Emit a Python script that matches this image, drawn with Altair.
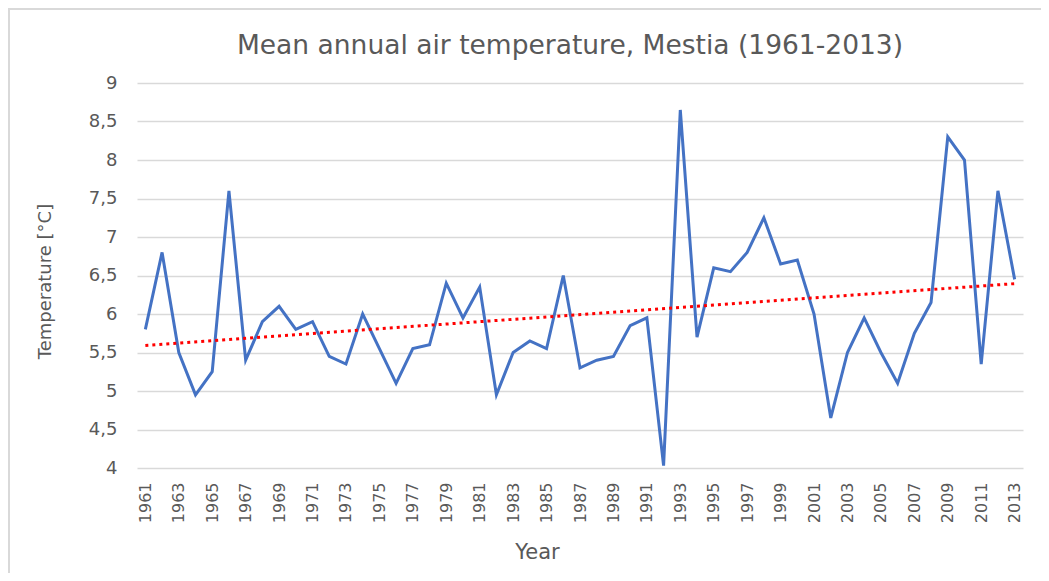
import altair as alt
import pandas as pd

years = list(range(1961, 2014))
temps = [5.8, 6.8, 5.5, 4.95, 5.25, 7.6, 5.4, 5.9, 6.1, 5.8,
         5.9, 5.45, 5.35, 6.0, 5.55, 5.1, 5.55, 5.6, 6.4, 5.95,
         6.35, 4.95, 5.5, 5.65, 5.55, 6.5, 5.3, 5.4, 5.45, 5.85,
         5.95, 4.03, 8.65, 5.7, 6.6, 6.55, 6.8, 7.25, 6.65, 6.7,
         6.0, 4.65, 5.5, 5.95, 5.5, 5.1, 5.75, 6.15, 8.3, 8.0,
         5.35, 7.6, 6.45]
tick_years = list(range(1961, 2014, 2))
y_ticks = [4, 4.5, 5, 5.5, 6, 6.5, 7, 7.5, 8, 8.5, 9]
title_text = "Mean annual air temperature, Mestia (1961-2013)"

df = pd.DataFrame({"Year": years, "Temp": temps})

FONT = "DejaVu Sans"
GREY = "#595959"

W, H = 886, 385

x_axis = alt.Axis(
    values=tick_years, format="d", labelAngle=270, labelAlign="right",
    labelBaseline="middle", labelPadding=14, ticks=False, tickSize=0,
    domain=False, grid=False, labelFontSize=16, labelFont=FONT,
    labelColor=GREY, title="Year", titleFont=FONT, titleFontSize=21,
    titleFontWeight="normal", titleColor=GREY, titleX=400, titleY=84,
    titleBaseline="middle", titleAlign="center", labelOverlap=False,
)
y_axis = alt.Axis(
    values=y_ticks, labelExpr="replace(toString(datum.value), '.', ',')",
    ticks=False, tickSize=0, domain=False, grid=True, gridColor="#d9d9d9",
    gridWidth=1.5, labelPadding=20, labelFontSize=18, labelFont=FONT,
    labelColor=GREY, title="Temperature [°C]", titleFont=FONT,
    titleFontSize=18, titleFontWeight="normal", titleColor=GREY,
    titleX=-92, titleY=198, titleAngle=270, titleBaseline="middle",
    titleAlign="center", labelOverlap=False,
)
x_scale = alt.Scale(domain=[1960.5, 2013.5], nice=False, zero=False)
y_scale = alt.Scale(domain=[4, 9], nice=False, zero=False)

base = alt.Chart(df)

line = base.mark_line(color="#4472C4", strokeWidth=3).encode(
    x=alt.X("Year:Q", scale=x_scale, axis=x_axis),
    y=alt.Y("Temp:Q", scale=y_scale, axis=y_axis),
)

trend = (
    base.transform_regression("Year", "Temp", extent=[1961, 2013])
    .mark_line(color="#FF0000", strokeWidth=3, strokeDash=[3, 4])
    .encode(
        x=alt.X("Year:Q", scale=x_scale, axis=x_axis),
        y=alt.Y("Temp:Q", scale=y_scale, axis=y_axis),
    )
)

frame_data = alt.Data(values=[{"a": 1}])
left_border = alt.Chart(frame_data).mark_rule(color="#d9d9d9", strokeWidth=2, clip=False).encode(
    x=alt.value(-128), y=alt.value(-75), y2=alt.value(H + 110)
)
top_border = alt.Chart(frame_data).mark_rule(color="#d9d9d9", strokeWidth=2, clip=False).encode(
    x=alt.value(-128), x2=alt.value(W + 30), y=alt.value(-74)
)
title_mark = alt.Chart(frame_data).mark_text(
    text=title_text, font=FONT, fontSize=26.5, color=GREY,
    align="center", baseline="alphabetic", clip=False,
).encode(x=alt.value(433), y=alt.value(-29))

chart = (
    alt.layer(left_border, top_border, line, trend, title_mark)
    .properties(
        width=W, height=H,
        autosize=alt.AutoSizeParams(type="none"),
        padding={"left": 129, "top": 75, "right": 18, "bottom": 105},
    )
    .configure(background="white")
    .configure_view(stroke="transparent", strokeWidth=0)
)

chart.save("out.html", embed_options={"renderer": "svg", "actions": False})
